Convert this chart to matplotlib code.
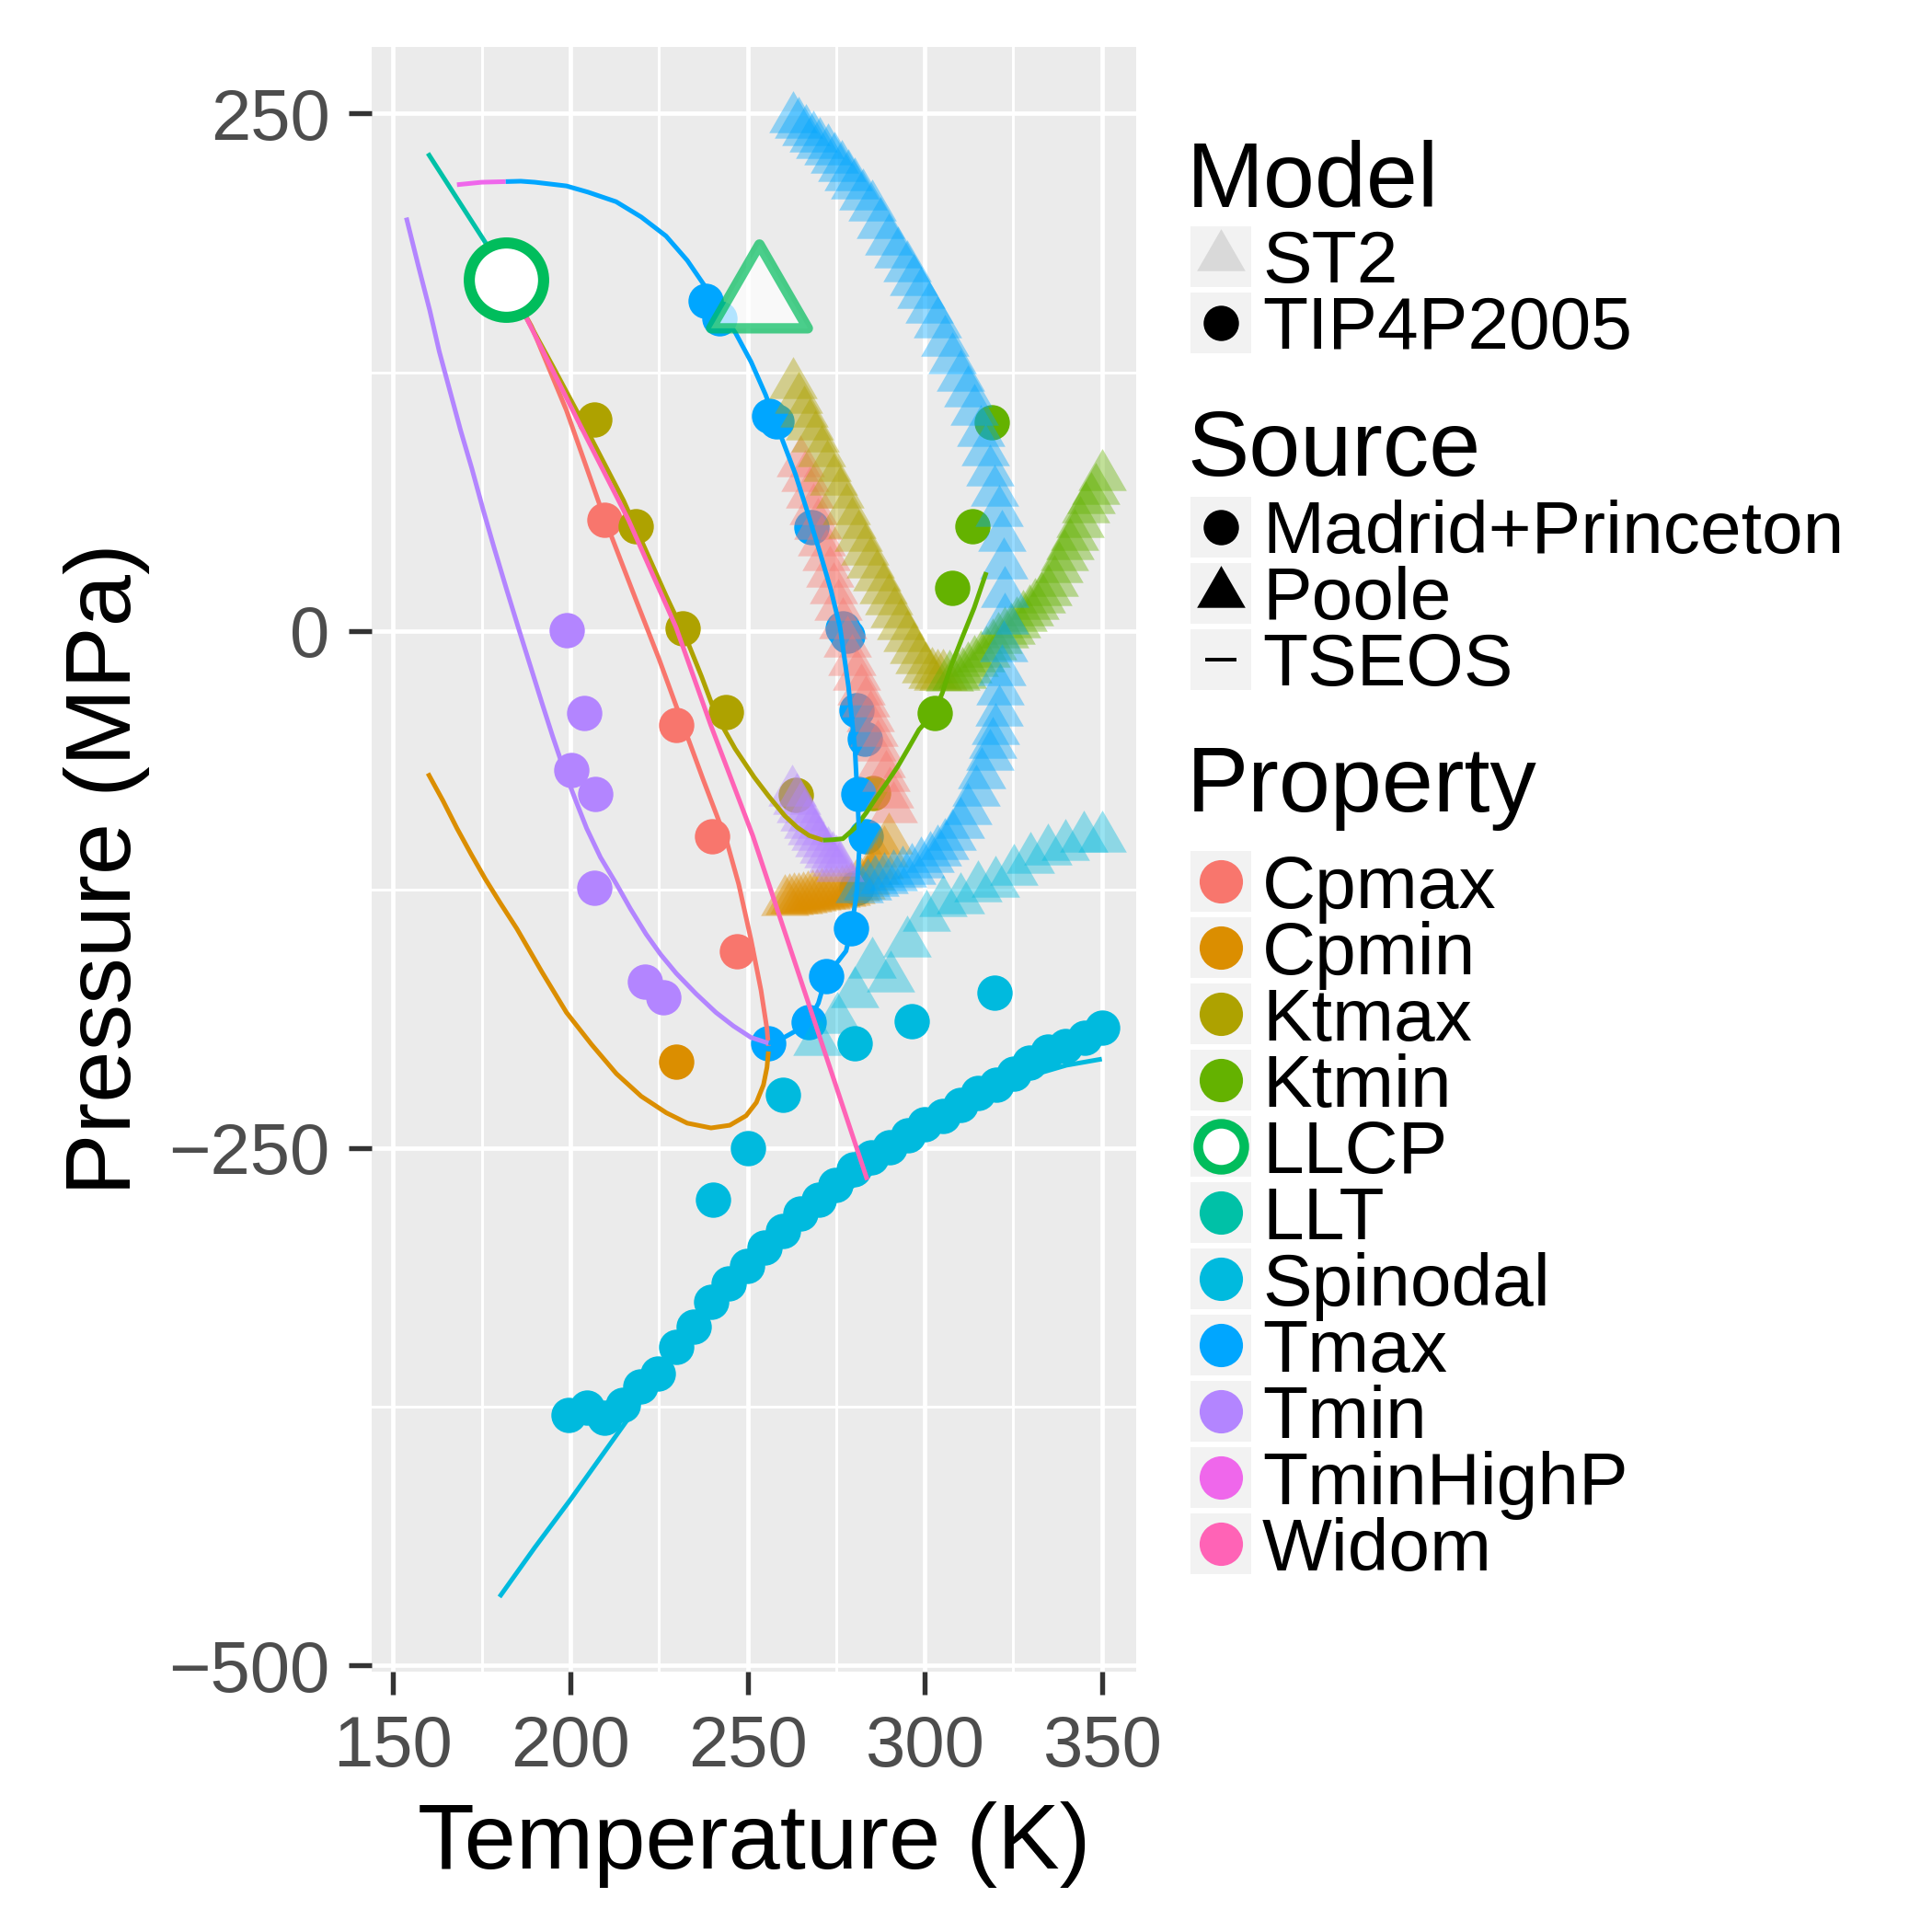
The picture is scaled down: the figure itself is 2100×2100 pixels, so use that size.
import numpy as np
import matplotlib.pyplot as plt
from matplotlib.path import Path
from matplotlib.markers import MarkerStyle
from matplotlib.patches import Rectangle

plt.rcParams['font.family'] = ['Liberation Sans', 'DejaVu Sans']

# ---------- TIP4P/2005, Madrid+Princeton (solid circles) ----------
mp_cpmax_T = [209.5, 229.8, 240.0, 246.9]
mp_cpmax_P = [53.5, -45.5, -99.2, -154.7]
mp_cpmin_T = [229.8]
mp_cpmin_P = [-208.2]
mp_ktmax_T = [206.8, 218.5, 231.6, 243.8, 263.7, 285.5]
mp_ktmax_P = [102.1, 50.6, 1.2, -39.4, -79.2, -78.5]
mp_ktmin_T = [302.8, 307.7, 313.5, 318.9]
mp_ktmin_P = [-39.8, 20.6, 50.6, 100.9]
mp_spin_T = [199.6, 204.6, 209.5, 214.7, 219.8, 224.7, 229.9, 234.8, 239.7, 244.7,
             249.9, 254.9, 260.1, 265.0, 270.0, 274.9, 280.1, 285.0, 290.1, 295.3,
             299.9, 305.1, 310.1, 315.0, 320.2, 325.2, 329.7, 334.7, 339.6, 345.2,
             350.1,
             240.2, 250.1, 260.1, 280.2, 296.3, 319.6]
mp_spin_P = [-379.2, -375.4, -380.5, -374.0, -365.2, -359.0, -346.3, -336.3, -324.2, -315.3,
             -307.2, -298.3, -290.2, -281.6, -274.8, -268.0, -260.5, -254.6, -249.7, -243.8,
             -238.4, -234.4, -229.0, -223.6, -219.5, -214.1, -208.7, -203.3, -200.6, -196.6,
             -192.0,
             -274.8, -250.0, -224.4, -199.3, -188.5, -174.8]
mp_tmax_T = [238.1, 242.0, 256.2, 258.1, 268.1, 276.9, 278.2, 280.8, 283.1, 281.2,
             283.4, 280.8, 279.3, 272.2, 267.2, 255.8]
mp_tmax_P = [159.3, 151.0, 103.9, 101.4, 50.3, 1.2, -2.5, -38.2, -52.0, -78.7,
             -99.5, -124.3, -144.0, -167.0, -189.0, -199.4]
mp_tmin_T = [198.9, 203.8, 200.3, 207.0, 206.7, 221.0, 226.2]
mp_tmin_P = [0.5, -39.8, -67.2, -78.7, -124.3, -169.6, -177.2]

# ---------- ST2, Poole (transparent triangles) ----------
po_cpmax_T = [265.0, 266.2, 267.4, 268.6, 269.8, 271.0, 272.1, 273.2, 274.3, 275.5, 276.9,
              278.2, 279.5, 280.8, 282.1, 283.4, 284.7, 285.8, 286.8, 287.9, 289.0, 290.0, 291.1]
po_cpmax_P = [81, 74, 66, 58, 51, 43, 36, 28, 20, 12, 3,
              -6, -15, -22, -29, -35, -42, -49, -56, -64, -71, -79, -86]
po_cpmin_T = [260.5, 261.8, 263.1, 264.4, 265.7, 267.0, 268.3, 269.6, 270.9, 272.2, 273.4, 275.0,
              276.5, 277.8, 279.1, 280.6, 282.1, 283.4, 284.7, 286.0, 287.2, 288.5, 289.8]
po_cpmin_P = [-130.7, -130.5, -130.2, -129.8, -129.5, -129.0, -128.7, -128.3, -128.0, -127.6, -127.2,
              -126.8, -126.5, -125.8, -125.0, -124.0, -122.8, -120.8, -118.3, -115.8, -113.1,
              -107.5, -100.9]
po_ktmax_T = [262.9, 264.5, 266.0, 267.5, 269.0, 270.8, 272.5, 274.3, 276.0, 277.8, 279.5, 281.2,
              283.0, 284.7, 286.5, 288.2, 289.8, 291.5, 293.2, 295.0, 296.8, 298.5, 300.2, 302.0,
              303.7, 305.3]
po_ktmax_P = [118.9, 112.0, 105.0, 99.0, 93.0, 86.0, 79.0, 72.5, 66.0, 58.0, 51.6, 45.0,
              38.5, 32.3, 26.0, 20.0, 14.4, 8.5, 2.5, -3.4, -9.0, -14.0, -18.3, -21.0,
              -22.0, -22.0]
po_ktmin_T = [307.0, 308.8, 310.5, 312.2, 314.0, 315.7, 317.4, 319.1, 320.8, 322.5, 324.3, 326.0,
              327.8, 329.5, 331.2, 333.0, 334.7, 336.5, 338.0, 339.5, 341.0, 342.4, 343.9, 345.4,
              347.0, 348.4, 350.2]
po_ktmin_P = [-22.5, -22.0, -21.0, -18.5, -15.5, -13.0, -10.9, -7.5, -4.0, -1.5, 0.4, 3.5,
              6.5, 9.0, 12.5, 15.5, 19.0, 23.5, 30.0, 36.0, 41.0, 45.7, 52.0, 59.1,
              63.5, 68.0, 74.7]
po_spin_T = [269.6, 275.2, 280.3, 285.1, 290.3, 295.0, 300.6, 305.2, 310.1, 315.0, 320.0,
             325.2, 329.9, 334.8, 339.8, 345.0, 350.0]
po_spin_P = [-198.4, -188.0, -175.3, -161.2, -168.0, -151.0, -138.4, -131.4, -129.9, -124.4,
             -122.2, -116.1, -110.6, -106.5, -104.3, -100.1, -100.1]
po_tmax_T = [262.9, 264.5, 266.5, 268.5, 270.5, 272.6, 274.5, 276.5, 278.3, 280.3, 282.7, 285.1,
             287.4, 289.8, 292.4, 295.0, 296.9, 298.9, 301.2, 303.6, 305.7, 307.9, 310.1, 312.2,
             314.0, 315.7, 317.0, 318.3, 319.7, 320.9, 321.7, 322.3, 322.6, 322.6, 322.4, 321.7,
             321.3, 320.9, 320.0, 319.2, 318.3, 316.1, 314.4, 312.2, 310.1, 307.9, 305.8, 303.6,
             301.5, 298.9, 296.3, 293.7, 291.1, 288.5, 285.9, 283.8, 281.5]
po_tmax_P = [247.5, 245.0, 241.5, 238.0, 235.0, 232.0, 228.0, 224.0, 219.5, 215.3, 210.0, 204.9,
             196.5, 188.2, 182.0, 175.5, 169.0, 162.7, 155.5, 148.4, 139.5, 130.9, 122.5, 115.0,
             106.0, 96.0, 86.5, 76.8, 67.0, 57.0, 45.0, 32.0, 18.0, 5.0, -8.0, -19.8,
             -29.0, -39.1, -48.0, -55.0, -60.7, -69.6, -77.8, -86.8, -93.5, -99.4, -103.9, -106.8,
             -109.8, -112.8, -115.8, -117.3, -118.8, -120.2, -121.7, -123.2, -124.5]
po_tmin_T = [262.7, 263.8, 264.8, 266.0, 267.0, 268.0, 269.1, 270.2, 271.3, 272.6, 273.9, 275.0, 276.0]
po_tmin_P = [-77.8, -82.0, -86.0, -90.0, -93.5, -96.5, -99.4, -102.5, -105.4, -107.8, -109.8,
             -112.0, -114.3]

# ---------- TSEOS curves ----------
ts_cpmax_T = [181.7, 189.0, 198.9, 209.4, 218.5, 225.0, 231.5, 237.5, 244.2, 247.5, 251.0,
              253.8, 255.5, 255.9]
ts_cpmax_P = [169.8, 147.3, 106.5, 55.4, 15.0, -13.5, -44.0, -72.0, -102.2, -122.4, -149.4,
              -173.7, -192.6, -200.6]
ts_cpmin_T = [159.8, 164.0, 168.0, 172.0, 176.0, 180.0, 184.9, 192.0, 198.9, 206.0, 213.0,
              220.0, 227.1, 233.0, 239.7, 245.0, 249.6, 252.5, 254.5, 255.5, 255.9]
ts_cpmin_P = [-68.9, -82.0, -95.5, -108.0, -120.0, -131.0, -144.0, -165.0, -184.5, -200.0, -214.1,
              -225.0, -233.0, -238.0, -240.3, -239.0, -234.4, -228.0, -219.5, -211.0, -203.3]
ts_ktmax_T = [181.7, 195.0, 205.0, 215.0, 221.0, 227.0, 232.6, 237.0, 241.0, 246.5, 251.9,
              256.0, 260.5, 264.0, 267.4, 271.3]
ts_ktmax_P = [169.8, 128.0, 96.0, 63.0, 40.0, 17.0, -3.3, -22.0, -40.3, -57.0, -70.8,
              -80.0, -89.4, -95.0, -99.0, -101.2]
ts_ktmin_T = [271.3, 274.0, 276.9, 280.3, 283.5, 286.4, 289.5, 292.4, 295.5, 298.4, 302.8,
              305.0, 307.1, 310.5, 314.0, 317.4]
ts_ktmin_P = [-101.2, -101.0, -100.5, -95.3, -88.0, -80.5, -73.0, -65.6, -56.5, -47.8, -39.4,
              -30.0, -18.6, -3.7, 11.2, 28.3]
ts_llt_T = [159.8, 176.0, 181.7]
ts_llt_P = [230.8, 187.7, 169.8]
ts_spin_T = [180, 190, 200, 210, 220, 230, 240, 250, 260, 270, 280, 290, 300, 310, 320, 330, 340, 350]
ts_spin_P = [-467, -443, -420, -396, -372, -350, -330, -312, -296, -281, -268, -256, -245,
             -235, -225, -215, -210, -207]
ts_tmax_T = [181.7, 186.0, 190.0, 195.0, 198.9, 205.0, 212.9, 220.0, 227.0, 233.0, 238.2, 243.0,
             246.6, 251.0, 255.1, 259.0, 263.5, 267.0, 270.5, 273.5, 276.1, 278.5, 280.3, 281.2,
             281.6, 281.4, 281.2, 280.8, 279.3, 277.8, 275.0, 272.2, 270.0, 267.2, 263.0, 260.5,
             255.8]
ts_tmax_P = [217.1, 217.3, 216.8, 215.8, 215.0, 212.0, 207.4, 200.0, 190.8, 179.0, 166.0, 153.0,
             144.0, 130.0, 114.1, 96.0, 75.8, 57.0, 37.5, 20.0, 1.8, -27.0, -56.6, -86.4,
             -104.0, -110.0, -116.0, -127.0, -144.0, -154.8, -161.0, -167.0, -180.0, -189.0,
             -194.0, -196.4, -199.4]
ts_tmin_T = [153.7, 157.0, 160.3, 163.0, 166.0, 169.0, 172.2, 175.3, 178.5, 182.0, 185.5, 188.8,
             192.0, 195.0, 198.2, 201.5, 204.6, 208.5, 213.0, 217.0, 221.4, 225.5, 229.9, 235.5,
             241.1, 246.0, 251.0, 255.9]
ts_tmin_P = [199.7, 177.0, 155.0, 135.0, 116.0, 97.0, 78.4, 59.0, 40.0, 20.0, 0.5, -17.5,
             -35.0, -51.0, -67.2, -82.0, -95.5, -109.5, -122.4, -134.5, -146.7, -156.5, -165.6,
             -175.5, -184.5, -191.0, -196.6, -199.3]
ts_tminhp_T = [168.0, 175.0, 181.7]
ts_tminhp_P = [215.6, 216.8, 217.1]
ts_widom_T = [181.7, 187.6, 202.0, 216.4, 229.8, 239.6, 251.5, 266.5, 283.8]
ts_widom_P = [169.8, 151.2, 102.0, 53.6, 1.8, -45.5, -99.1, -176.4, -265.4]

# liquid-liquid critical points
llcp_tip4p = (181.8, 169.8)
llcp_st2 = (253.3, 160.0)

properties = ['Cpmax', 'Cpmin', 'Ktmax', 'Ktmin', 'LLCP', 'LLT', 'Spinodal',
              'Tmax', 'Tmin', 'TminHighP', 'Widom']
hues = ['#F8766D', '#DB8E00', '#AEA200', '#64B200', '#00BD5C', '#00C1A7', '#00BADE',
        '#00A6FF', '#B385FF', '#EF67EB', '#FF63B6']
colors = dict(zip(properties, hues))

# R-style triangle, centred on its centroid
tri_path = Path([(0, 1), (-0.866, -0.5), (0.866, -0.5), (0, 1)],
                [Path.MOVETO, Path.LINETO, Path.LINETO, Path.CLOSEPOLY])
tri_round = MarkerStyle(tri_path, joinstyle='round')

fig = plt.figure(figsize=(7, 7), dpi=300)
ax = fig.add_axes([0.19252, 0.13476, 0.39557, 0.84095])
ax.set_facecolor('#EBEBEB')

dots = [(mp_cpmax_T, mp_cpmax_P, 'Cpmax'), (mp_cpmin_T, mp_cpmin_P, 'Cpmin'),
        (mp_ktmax_T, mp_ktmax_P, 'Ktmax'), (mp_ktmin_T, mp_ktmin_P, 'Ktmin'),
        (mp_spin_T, mp_spin_P, 'Spinodal'), (mp_tmax_T, mp_tmax_P, 'Tmax'),
        (mp_tmin_T, mp_tmin_P, 'Tmin')]
for T, P, prop in dots:
    ax.scatter(T, P, s=85, marker='o', color=colors[prop], lw=0, zorder=2)

tris = [(po_cpmax_T, po_cpmax_P, 'Cpmax'), (po_cpmin_T, po_cpmin_P, 'Cpmin'),
        (po_ktmax_T, po_ktmax_P, 'Ktmax'), (po_ktmin_T, po_ktmin_P, 'Ktmin'),
        (po_spin_T, po_spin_P, 'Spinodal'), (po_tmax_T, po_tmax_P, 'Tmax'),
        (po_tmin_T, po_tmin_P, 'Tmin')]
for T, P, prop in tris:
    ax.scatter(T, P, s=213, marker=tri_path, color=colors[prop], alpha=0.4, lw=0, zorder=3)

curves = [(ts_cpmax_T, ts_cpmax_P, 'Cpmax'), (ts_cpmin_T, ts_cpmin_P, 'Cpmin'),
          (ts_ktmax_T, ts_ktmax_P, 'Ktmax'), (ts_ktmin_T, ts_ktmin_P, 'Ktmin'),
          (ts_llt_T, ts_llt_P, 'LLT'), (ts_spin_T, ts_spin_P, 'Spinodal'),
          (ts_tmax_T, ts_tmax_P, 'Tmax'), (ts_tmin_T, ts_tmin_P, 'Tmin'),
          (ts_tminhp_T, ts_tminhp_P, 'TminHighP'), (ts_widom_T, ts_widom_P, 'Widom')]
for T, P, prop in curves:
    ax.plot(T, P, color=colors[prop], lw=1.2, zorder=4, solid_capstyle='butt',
            solid_joinstyle='round')

ax.scatter([llcp_tip4p[0]], [llcp_tip4p[1]], s=376, marker='o', facecolor='white',
           edgecolor=colors['LLCP'], lw=2.9, zorder=5)
ax.scatter([llcp_st2[0]], [llcp_st2[1]], s=850, marker=tri_round, facecolor='white',
           edgecolor=colors['LLCP'], lw=2.7, alpha=0.7, zorder=5)

ax.set_xlim(144.0, 359.7)
ax.set_ylim(-503.1, 282.2)
ax.set_xticks([150, 200, 250, 300, 350])
ax.set_xticks([175, 225, 275, 325], minor=True)
ax.set_yticks([-500, -250, 0, 250])
ax.set_yticks([-375, -125, 125], minor=True)
ax.grid(which='major', color='white', lw=1.15)
ax.grid(which='minor', color='white', lw=0.7)
ax.set_axisbelow(True)
ax.tick_params(which='minor', length=0)
ax.tick_params(which='major', length=6, width=1.3, color='#333333',
               labelsize=18.7, labelcolor='#4D4D4D', pad=5)
for s in ax.spines.values():
    s.set_visible(False)

fig.text(819.5 / 2100, 1 - 2031 / 2100, 'Temperature (K)', ha='center', va='baseline',
         fontsize=24.3)
fig.text(141.7 / 2100, 1 - 945 / 2100, 'Pressure (MPa)', rotation=90, rotation_mode='anchor',
         ha='center', va='baseline', fontsize=24.3)

# ---------- legends, drawn in figure pixels ----------
lax = fig.add_axes([0, 0, 1, 1])
lax.set_xlim(0, 2100)
lax.set_ylim(2100, 0)
lax.axis('off')

kx = 1327


def key_box(y):
    lax.add_patch(Rectangle((kx - 33, y - 33), 66, 66, color='#F2F2F2', lw=0))


def key_label(y, text):
    lax.text(1372, y + 29, text, fontsize=19.3, va='baseline', ha='left')


lax.text(1290, 225, 'Model', fontsize=24.2, va='baseline')
for y, lab in [(278.5, 'ST2'), (350.5, 'TIP4P2005')]:
    key_box(y)
    key_label(y, lab)
lax.scatter([kx], [278.5], s=213, marker=tri_path, color='#D9D9D9', lw=0)
lax.scatter([kx], [350.5], s=85, marker='o', color='black', lw=0)

lax.text(1290, 517, 'Source', fontsize=24.2, va='baseline')
for y, lab in [(572.5, 'Madrid+Princeton'), (644.5, 'Poole'), (716.5, 'TSEOS')]:
    key_box(y)
    key_label(y, lab)
lax.scatter([kx], [572.5], s=85, marker='o', color='black', lw=0)
lax.scatter([kx], [644.5], s=213, marker=tri_path, color='black', lw=0)
lax.plot([kx - 15, kx + 15], [716.5, 716.5], color='black', lw=0.95)

lax.text(1290, 882, 'Property', fontsize=24.2, va='baseline')
for i, prop in enumerate(properties):
    y = 958 + 72 * i
    key_box(y)
    key_label(y, prop)
    if prop == 'LLCP':
        lax.scatter([kx], [y], s=144, marker='o', facecolor='white',
                    edgecolor=colors[prop], lw=2.5)
    else:
        lax.scatter([kx], [y], s=128, marker='o', color=colors[prop], lw=0)

fig.savefig('out.png', dpi=300)
